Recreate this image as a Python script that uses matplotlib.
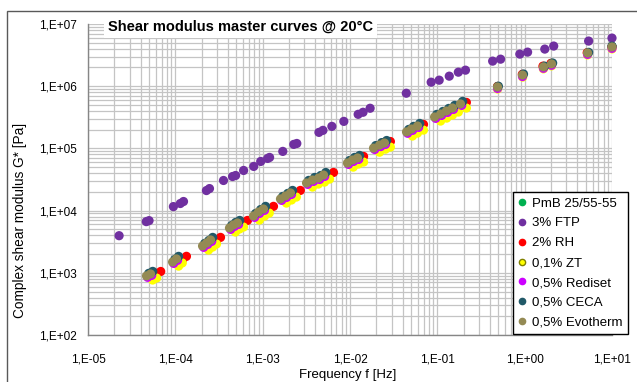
import numpy as np
import matplotlib
matplotlib.use('Agg')
import matplotlib.pyplot as plt
from matplotlib.ticker import LogLocator, FixedLocator, FuncFormatter, NullFormatter
from matplotlib.lines import Line2D
from matplotlib.patches import Rectangle

plt.rcParams['font.family'] = ['Liberation Sans', 'DejaVu Sans']

# 3% FTP
ftp_f = [2.27e-5, 4.65e-5, 5.0e-5, 9.5e-5, 1.14e-4, 1.24e-4, 2.27e-4, 2.46e-4, 3.56e-4, 4.52e-4,
         4.9e-4, 6.05e-4, 7.9e-4, 9.5e-4, 1.14e-3, 1.2e-3, 1.7e-3, 2.27e-3, 2.46e-3, 4.41e-3,
         4.9e-3, 6.2e-3, 8.5e-3, 1.24e-2, 1.41e-2, 1.7e-2, 4.41e-2, 8.5e-2, 0.105, 0.137,
         0.174, 0.21, 0.43, 0.53, 0.88, 1.08, 1.7, 2.15, 5.4, 10.0]
ftp_g = [3.95e3, 6.65e3, 6.9e3, 1.16e4, 1.30e4, 1.40e4, 2.10e4, 2.26e4, 3.05e4, 3.53e4,
         3.67e4, 4.42e4, 5.13e4, 6.17e4, 6.9e4, 7.16e4, 8.95e4, 1.16e5, 1.2e5, 1.81e5,
         1.95e5, 2.26e5, 2.72e5, 3.53e5, 3.81e5, 4.42e5, 7.71e5, 1.16e6, 1.25e6, 1.45e6,
         1.68e6, 1.81e6, 2.53e6, 2.72e6, 3.28e6, 3.53e6, 3.95e6, 4.42e6, 5.32e6, 5.94e6]

# PmB 25/55-55
pmb_f = [4.87e-5, 5.4e-5, 9.7e-5, 1.07e-4, 2.13e-4, 2.37e-4, 2.63e-4, 4.34e-4, 4.82e-4, 5.36e-4,
         8.16e-4, 9.31e-4, 1.06e-3, 1.66e-3, 1.9e-3, 2.16e-3, 3.31e-3, 3.87e-3, 4.54e-3, 5.18e-3,
         9.72e-3, 1.11e-2, 1.27e-2, 1.93e-2, 2.27e-2, 2.58e-2, 4.62e-2, 5.26e-2, 6.17e-2, 9.7e-2,
         0.113, 0.132, 0.155, 0.191, 0.49, 0.95, 1.65, 2.04, 5.3, 10.0]
pmb_g = [917, 986, 1530, 1720, 2780, 3100, 3470, 5410, 6050, 6510,
         8440, 9760, 1.09e4, 1.59e4, 1.77e4, 1.98e4, 2.86e4, 3.19e4, 3.44e4, 3.84e4,
         5.99e4, 6.71e4, 7.22e4, 1.04e5, 1.16e5, 1.26e5, 1.9e5, 2.11e5, 2.36e5, 3.3e5,
         3.68e5, 4.11e5, 4.59e5, 5.34e5, 9.9e5, 1.54e6, 2.08e6, 2.33e6, 3.47e6, 4.33e6]

# 2% RH
rh_f = [6.1e-5, 6.8e-5, 1.21e-4, 1.34e-4, 2.67e-4, 2.96e-4, 3.29e-4, 5.42e-4, 6.02e-4, 6.7e-4,
        1.02e-3, 1.16e-3, 1.33e-3, 2.08e-3, 2.38e-3, 2.7e-3, 4.13e-3, 4.84e-3, 5.68e-3, 6.47e-3,
        1.09e-2, 1.25e-2, 1.43e-2, 2.18e-2, 2.55e-2, 2.9e-2, 5.19e-2, 5.92e-2, 6.94e-2, 0.109,
        0.128, 0.149, 0.174, 0.215, 0.49, 0.94, 1.62, 2.0, 5.2, 10.0]
rh_g = [980, 1050, 1640, 1840, 2970, 3310, 3710, 5780, 6460, 6950,
        9010, 1.04e4, 1.17e4, 1.69e4, 1.89e4, 2.11e4, 3.06e4, 3.41e4, 3.67e4, 4.1e4,
        6.17e4, 6.9e4, 7.43e4, 1.07e5, 1.2e5, 1.29e5, 1.95e5, 2.17e5, 2.43e5, 3.39e5,
        3.78e5, 4.23e5, 4.73e5, 5.49e5, 9.9e5, 1.55e6, 2.1e6, 2.33e6, 3.45e6, 4.3e6]

# 0,1% ZT
zt_f = [5.5e-5, 6.1e-5, 1.09e-4, 1.2e-4, 2.4e-4, 2.67e-4, 2.96e-4, 4.88e-4, 5.42e-4, 6.03e-4,
        9.18e-4, 1.05e-3, 1.19e-3, 1.87e-3, 2.14e-3, 2.43e-3, 3.72e-3, 4.35e-3, 5.11e-3, 5.83e-3,
        1.09e-2, 1.25e-2, 1.43e-2, 2.18e-2, 2.55e-2, 2.9e-2, 5.19e-2, 5.92e-2, 6.94e-2, 0.109,
        0.128, 0.149, 0.174, 0.215, 0.49, 0.95, 1.64, 2.03, 5.25, 10.0]
zt_g = [765, 823, 1280, 1440, 2320, 2590, 2900, 4520, 5050, 5440,
        7040, 8150, 9120, 1.32e4, 1.48e4, 1.65e4, 2.39e4, 2.67e4, 2.87e4, 3.21e4,
        5.0e4, 5.6e4, 6.03e4, 8.69e4, 9.72e4, 1.05e5, 1.58e5, 1.76e5, 1.97e5, 2.75e5,
        3.07e5, 3.43e5, 3.84e5, 4.45e5, 9.0e5, 1.4e6, 1.9e6, 2.12e6, 3.18e6, 3.97e6]

# 0,5% Rediset
red_f = [4.82e-5, 5.36e-5, 9.58e-5, 1.06e-4, 2.11e-4, 2.35e-4, 2.61e-4, 4.3e-4, 4.77e-4, 5.3e-4,
         8.09e-4, 9.22e-4, 1.05e-3, 1.65e-3, 1.88e-3, 2.14e-3, 3.28e-3, 3.83e-3, 4.5e-3, 5.13e-3,
         9.63e-3, 1.1e-2, 1.26e-2, 1.92e-2, 2.25e-2, 2.55e-2, 4.57e-2, 5.21e-2, 6.11e-2, 9.58e-2,
         0.112, 0.131, 0.153, 0.19, 0.489, 0.944, 1.64, 2.03, 5.25, 10.0]
red_g = [846, 909, 1416, 1587, 2565, 2860, 3200, 4990, 5580, 6000,
         7780, 9010, 1.01e4, 1.46e4, 1.63e4, 1.82e4, 2.64e4, 2.95e4, 3.17e4, 3.54e4,
         5.53e4, 6.18e4, 6.66e4, 9.6e4, 1.07e5, 1.16e5, 1.75e5, 1.95e5, 2.18e5, 3.04e5,
         3.39e5, 3.79e5, 4.24e5, 4.92e5, 9.2e5, 1.43e6, 1.94e6, 2.17e6, 3.25e6, 4.06e6]

# 0,5% CECA
ceca_f = [4.96e-5, 5.51e-5, 9.86e-5, 1.09e-4, 2.17e-4, 2.42e-4, 2.68e-4, 4.42e-4, 4.91e-4, 5.46e-4,
          8.32e-4, 9.49e-4, 1.08e-3, 1.7e-3, 1.94e-3, 2.2e-3, 3.37e-3, 3.94e-3, 4.63e-3, 5.28e-3,
          9.91e-3, 1.13e-2, 1.29e-2, 1.97e-2, 2.31e-2, 2.63e-2, 4.71e-2, 5.36e-2, 6.29e-2, 9.86e-2,
          0.116, 0.135, 0.158, 0.195, 0.5, 0.97, 1.69, 2.09, 5.4, 10.0]
ceca_g = [979, 1053, 1639, 1837, 2970, 3311, 3707, 5775, 6457, 6952,
          9009, 1.04e4, 1.17e4, 1.69e4, 1.89e4, 2.11e4, 3.06e4, 3.41e4, 3.67e4, 4.1e4,
          6.4e4, 7.16e4, 7.71e4, 1.11e5, 1.24e5, 1.34e5, 2.02e5, 2.26e5, 2.52e5, 3.52e5,
          3.93e5, 4.39e5, 4.91e5, 5.7e5, 1.0e6, 1.57e6, 2.1e6, 2.36e6, 3.5e6, 4.4e6]

# 0,5% Evotherm
evo_f = [4.68e-5, 5.2e-5, 9.3e-5, 1.03e-4, 2.05e-4, 2.28e-4, 2.53e-4, 4.17e-4, 4.63e-4, 5.15e-4,
         7.85e-4, 8.95e-4, 1.02e-3, 1.6e-3, 1.83e-3, 2.08e-3, 3.18e-3, 3.72e-3, 4.37e-3, 4.98e-3,
         9.35e-3, 1.07e-2, 1.22e-2, 1.86e-2, 2.18e-2, 2.48e-2, 4.44e-2, 5.06e-2, 5.93e-2, 9.3e-2,
         0.109, 0.127, 0.149, 0.184, 0.489, 0.944, 1.64, 2.03, 5.25, 10.0]
evo_g = [890, 957, 1490, 1670, 2700, 3010, 3370, 5250, 5870, 6320,
         8190, 9480, 1.06e4, 1.54e4, 1.72e4, 1.92e4, 2.78e4, 3.1e4, 3.34e4, 3.73e4,
         5.82e4, 6.51e4, 7.01e4, 1.01e5, 1.13e5, 1.22e5, 1.84e5, 2.05e5, 2.29e5, 3.2e5,
         3.57e5, 3.99e5, 4.46e5, 5.18e5, 9.7e5, 1.51e6, 2.04e6, 2.28e6, 3.42e6, 4.27e6]

labels = ['PmB 25/55-55', '3% FTP', '2% RH', '0,1% ZT', '0,5% Rediset', '0,5% CECA', '0,5% Evotherm']
colors = ['#00B050', '#7030A0', '#FF0000', '#FFFF00', '#CC00FF', '#215968', '#948A54']
series = [(pmb_f, pmb_g), (ftp_f, ftp_g), (rh_f, rh_g), (zt_f, zt_g),
          (red_f, red_g), (ceca_f, ceca_g), (evo_f, evo_g)]
x_ticks = [1e-5, 1e-4, 1e-3, 1e-2, 1e-1, 1e0, 1e1]
y_ticks = [1e2, 1e3, 1e4, 1e5, 1e6, 1e7]

fig = plt.figure(figsize=(6.37, 3.82), dpi=100)
ax = fig.add_axes([88 / 637, 1 - 335 / 382, (612 - 88) / 637, (335 - 24) / 382])

for (f, g), c in zip(series, colors):
    ax.scatter(f, g, s=44, color=c, edgecolors='none', zorder=3, clip_on=False)

ax.set_xscale('log')
ax.set_yscale('log')
ax.set_xlim(1e-5, 1e1)
ax.set_ylim(1e2, 1e7)

fmt = FuncFormatter(lambda v, p: '1,E%+03d' % int(round(np.log10(v))))
for axis, ticks in ((ax.xaxis, x_ticks), (ax.yaxis, y_ticks)):
    axis.set_major_locator(FixedLocator(ticks))
    axis.set_minor_locator(LogLocator(base=10, subs=np.arange(2, 10), numticks=20))
    axis.set_minor_formatter(NullFormatter())
    axis.set_major_formatter(fmt)

ax.grid(True, which='both', color='#C4C4C4', linewidth=0.9)
ax.set_axisbelow(True)
ax.tick_params(which='both', length=0)
ax.tick_params(axis='x', pad=13, labelsize=8.5)
ax.tick_params(axis='y', pad=8, labelsize=8.5)
for s in ('top', 'right'):
    ax.spines[s].set_visible(False)
for s in ('left', 'bottom'):
    ax.spines[s].set_color('#868686')
    ax.spines[s].set_linewidth(1.0)

fig.text(108 / 637, 1 - 27 / 382, 'Shear modulus master curves @ 20°C', fontsize=10.5,
         fontweight='bold', ha='left', va='center',
         bbox=dict(facecolor='white', edgecolor='none', pad=3))
fig.text(20 / 637, 1 - 220 / 382, 'Complex shear modulus G* [Pa]', rotation=90,
         fontsize=9.8, ha='center', va='center')
fig.text(348 / 637, 1 - 375 / 382, 'Frequency f [Hz]', fontsize=9.5, ha='center', va='center')

handles = [Line2D([], [], linestyle='none', marker='o', markersize=4.5, markerfacecolor=c,
                  markeredgecolor=('#808000' if c == '#FFFF00' else c)) for c in colors]
leg = ax.legend(handles, labels, loc='upper left', bbox_to_anchor=(513 / 637, 1 - 192 / 382),
                bbox_transform=fig.transFigure, borderaxespad=0, fancybox=False,
                edgecolor='black', framealpha=1, fontsize=9.5, handlelength=0.6,
                handletextpad=0.45, labelspacing=0.58, borderpad=0.4)
leg.get_frame().set_linewidth(1.0)
leg.set_zorder(5)

fig.patches.append(Rectangle((7 / 637, -0.1), 1.2, 1.1 - 11 / 382, transform=fig.transFigure,
                             fill=False, edgecolor='#595959', linewidth=1.0))

fig.savefig('out.png', dpi=100)
